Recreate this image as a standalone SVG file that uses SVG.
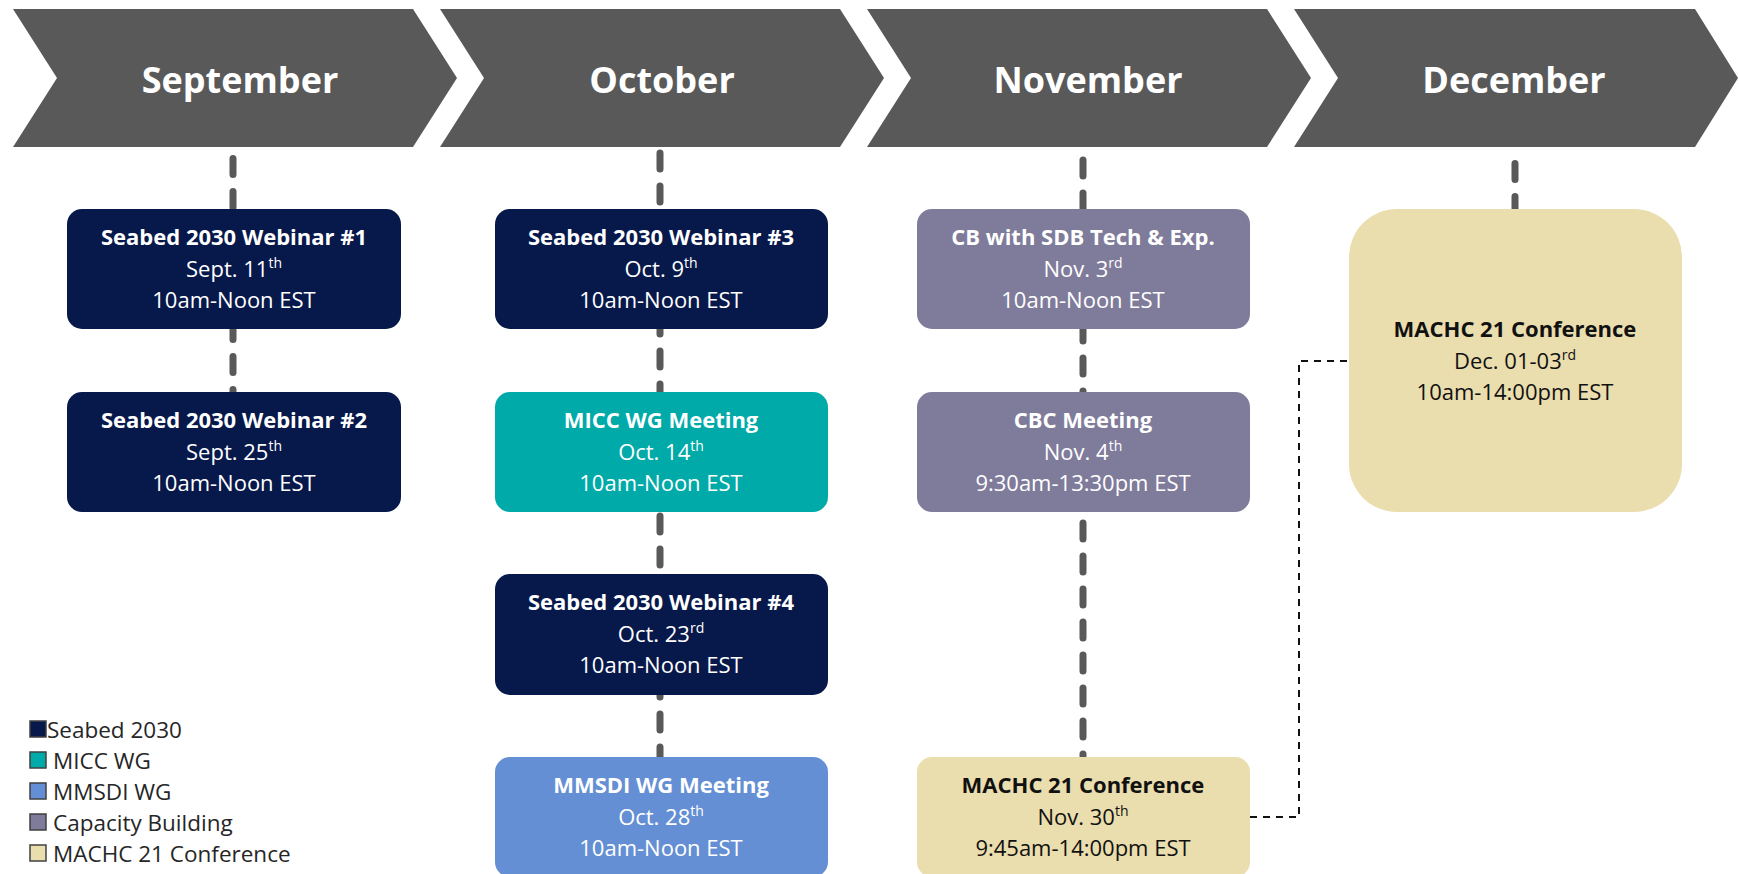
<svg xmlns="http://www.w3.org/2000/svg" width="1739" height="874" viewBox="0 0 1739 874">
<style>
.chev{fill:#595959}
.mon{font-family:"Open Sans","Liberation Sans",sans-serif;font-weight:bold;font-size:36px;fill:#ffffff;text-anchor:middle}
.t{font-family:"Open Sans","Liberation Sans",sans-serif;font-size:22px;text-anchor:middle;fill:#ffffff}
.b{font-weight:bold}
.dk{fill:#111111}
.sup{font-size:14px}
.navy{fill:#07184A}
.teal{fill:#00AAA8}
.blue{fill:#648FD4}
.cb{fill:#7F7B9B}
.beige{fill:#EADDAE}
.vline{stroke:#595959;stroke-width:7;stroke-linecap:round;stroke-dasharray:16 17;fill:none}
.link{stroke:#111111;stroke-width:2;stroke-dasharray:7 6;fill:none}
.leg{font-family:"Open Sans","Liberation Sans",sans-serif;font-size:22.5px;fill:#262626}
.sq{stroke:#404040;stroke-width:1.5}
</style>
<g id="header">
<g id="sep-head"><polygon class="chev" points="13,9 413,9 457,78 413,147 13,147 57,78"/><text class="mon" x="240" y="93">September</text></g>
<g id="oct-head"><polygon class="chev" points="440,9 840,9 884,78 840,147 440,147 484,78"/><text class="mon" x="662" y="93">October</text></g>
<g id="nov-head"><polygon class="chev" points="867,9 1267,9 1311,78 1267,147 867,147 911,78"/><text class="mon" x="1088" y="93">November</text></g>
<g id="dec-head"><polygon class="chev" points="1294,9 1695,9 1738,78 1695,147 1294,147 1338,78"/><text class="mon" x="1514" y="93">December</text></g>
</g>
<g id="connectors">
<line class="vline" x1="233" y1="158.5" x2="233" y2="392"/>
<line class="vline" x1="660" y1="153" x2="660" y2="757"/>
<line class="vline" x1="1083" y1="160" x2="1083" y2="757"/>
<line class="vline" x1="1515" y1="163.5" x2="1515" y2="209"/>
<path class="link" d="M1250 817 H1299 V361 H1349"/>
</g>
<g id="sep-1"><rect class="navy" x="67" y="209" width="334" height="120" rx="15"/>
<text class="t b" x="234" y="245">Seabed 2030 Webinar #1</text>
<text class="t" x="234" y="277">Sept. 11<tspan class="sup" dy="-9">th</tspan></text>
<text class="t" x="234" y="308">10am-Noon EST</text></g>
<g id="sep-2"><rect class="navy" x="67" y="392" width="334" height="120" rx="15"/>
<text class="t b" x="234" y="428">Seabed 2030 Webinar #2</text>
<text class="t" x="234" y="460">Sept. 25<tspan class="sup" dy="-9">th</tspan></text>
<text class="t" x="234" y="491">10am-Noon EST</text></g>
<g id="oct-1"><rect class="navy" x="495" y="209" width="333" height="120" rx="15"/>
<text class="t b" x="661" y="245">Seabed 2030 Webinar #3</text>
<text class="t" x="661" y="277">Oct. 9<tspan class="sup" dy="-9">th</tspan></text>
<text class="t" x="661" y="308">10am-Noon EST</text></g>
<g id="oct-2"><rect class="teal" x="495" y="392" width="333" height="120" rx="15"/>
<text class="t b" x="661" y="428">MICC WG Meeting</text>
<text class="t" x="661" y="460">Oct. 14<tspan class="sup" dy="-9">th</tspan></text>
<text class="t" x="661" y="491">10am-Noon EST</text></g>
<g id="oct-3"><rect class="navy" x="495" y="574" width="333" height="121" rx="15"/>
<text class="t b" x="661" y="610">Seabed 2030 Webinar #4</text>
<text class="t" x="661" y="642">Oct. 23<tspan class="sup" dy="-9">rd</tspan></text>
<text class="t" x="661" y="673">10am-Noon EST</text></g>
<g id="oct-4"><rect class="blue" x="495" y="757" width="333" height="120" rx="15"/>
<text class="t b" x="661" y="793">MMSDI WG Meeting</text>
<text class="t" x="661" y="825">Oct. 28<tspan class="sup" dy="-9">th</tspan></text>
<text class="t" x="661" y="856">10am-Noon EST</text></g>
<g id="nov-1"><rect class="cb" x="917" y="209" width="333" height="120" rx="15"/>
<text class="t b" x="1083" y="245">CB with SDB Tech &amp; Exp.</text>
<text class="t" x="1083" y="277">Nov. 3<tspan class="sup" dy="-9">rd</tspan></text>
<text class="t" x="1083" y="308">10am-Noon EST</text></g>
<g id="nov-2"><rect class="cb" x="917" y="392" width="333" height="120" rx="15"/>
<text class="t b" x="1083" y="428">CBC Meeting</text>
<text class="t" x="1083" y="460">Nov. 4<tspan class="sup" dy="-9">th</tspan></text>
<text class="t" x="1083" y="491">9:30am-13:30pm EST</text></g>
<g id="nov-3"><rect class="beige" x="917" y="757" width="333" height="120" rx="15"/>
<text class="t b dk" x="1083" y="793">MACHC 21 Conference</text>
<text class="t dk" x="1083" y="825">Nov. 30<tspan class="sup" dy="-9">th</tspan></text>
<text class="t dk" x="1083" y="856">9:45am-14:00pm EST</text></g>
<g id="dec-1"><rect class="beige" x="1349" y="209" width="333" height="303" rx="48"/>
<text class="t b dk" x="1515" y="337">MACHC 21 Conference</text>
<text class="t dk" x="1515" y="369">Dec. 01-03<tspan class="sup" dy="-9">rd</tspan></text>
<text class="t dk" x="1515" y="400">10am-14:00pm EST</text></g>
<g id="legend">
<rect class="sq navy" x="30" y="721" width="16" height="16"/><text class="leg" x="47" y="738">Seabed 2030</text>
<rect class="sq teal" x="30" y="752" width="16" height="16"/><text class="leg" x="53" y="769">MICC WG</text>
<rect class="sq blue" x="30" y="783" width="16" height="16"/><text class="leg" x="53" y="800">MMSDI WG</text>
<rect class="sq cb" x="30" y="814" width="16" height="16"/><text class="leg" x="53" y="831">Capacity Building</text>
<rect class="sq beige" x="30" y="845" width="16" height="16"/><text class="leg" x="53" y="862">MACHC 21 Conference</text>
</g>
</svg>
